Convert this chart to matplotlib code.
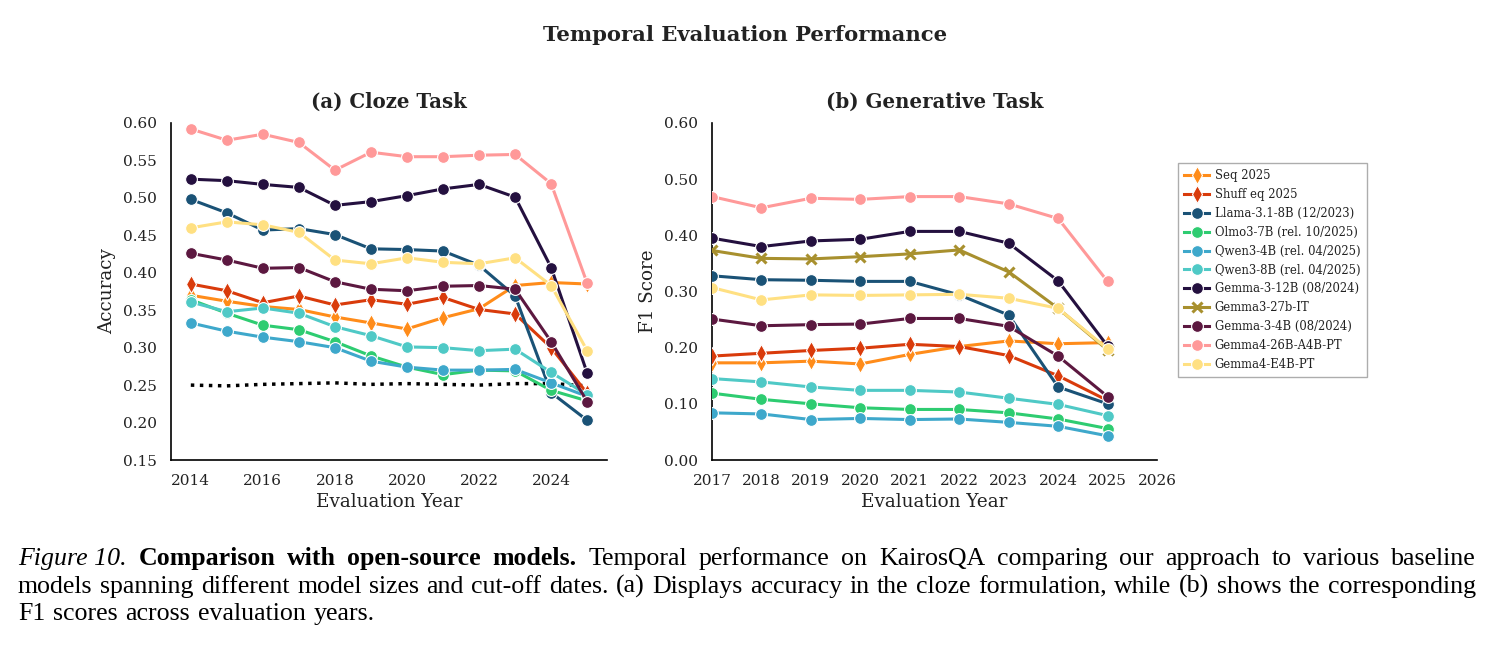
import matplotlib
matplotlib.use("Agg")
import matplotlib.pyplot as plt
import numpy as np

# ---------------- data ----------------
years_cloze = [2014, 2015, 2016, 2017, 2018, 2019, 2020, 2021, 2022, 2023, 2024, 2025]
years_gen = [2017, 2018, 2019, 2020, 2021, 2022, 2023, 2024, 2025]

series_names = [
    "Seq 2025", "Shuff eq 2025", "Llama-3.1-8B (12/2023)", "Olmo3-7B (rel. 10/2025)",
    "Qwen3-4B (rel. 04/2025)", "Qwen3-8B (rel. 04/2025)", "Gemma-3-12B (08/2024)",
    "Gemma3-27b-IT", "Gemma-3-4B (08/2024)", "Gemma4-26B-A4B-PT", "Gemma4-E4B-PT",
]
series_colors = ["#FF8C1A", "#D93B0B", "#1A5276", "#2ECC71", "#3EA8CB", "#4FC9C6",
                 "#24103F", "#A8902E", "#5C1840", "#FF9999", "#FFE082"]
series_markers = ["d", "d", "o", "o", "o", "o", "o", "x", "o", "o", "o"]

cloze = {
    "Seq 2025":                [0.370, 0.362, 0.355, 0.351, 0.341, 0.333, 0.325, 0.340, 0.352, 0.383, 0.387, 0.385],
    "Shuff eq 2025":           [0.385, 0.376, 0.360, 0.369, 0.357, 0.364, 0.358, 0.367, 0.351, 0.345, 0.300, 0.239],
    "Llama-3.1-8B (12/2023)":  [0.498, 0.480, 0.457, 0.459, 0.451, 0.432, 0.431, 0.429, 0.410, 0.369, 0.240, 0.203],
    "Olmo3-7B (rel. 10/2025)": [0.364, 0.346, 0.330, 0.324, 0.308, 0.289, 0.274, 0.264, 0.270, 0.269, 0.243, 0.229],
    "Qwen3-4B (rel. 04/2025)": [0.333, 0.322, 0.314, 0.308, 0.300, 0.282, 0.274, 0.270, 0.270, 0.271, 0.253, 0.235],
    "Qwen3-8B (rel. 04/2025)": [0.361, 0.348, 0.353, 0.346, 0.328, 0.316, 0.301, 0.300, 0.296, 0.298, 0.267, 0.237],
    "Gemma-3-12B (08/2024)":   [0.525, 0.523, 0.518, 0.514, 0.490, 0.495, 0.503, 0.512, 0.518, 0.501, 0.407, 0.266],
    "Gemma-3-4B (08/2024)":    [0.426, 0.417, 0.406, 0.407, 0.388, 0.378, 0.376, 0.382, 0.383, 0.378, 0.308, 0.228],
    "Gemma4-26B-A4B-PT":       [0.592, 0.577, 0.585, 0.574, 0.537, 0.561, 0.555, 0.555, 0.557, 0.558, 0.519, 0.386],
    "Gemma4-E4B-PT":           [0.460, 0.468, 0.464, 0.454, 0.417, 0.412, 0.420, 0.414, 0.412, 0.420, 0.383, 0.296],
}
random_baseline = [0.250, 0.249, 0.251, 0.252, 0.253, 0.251, 0.252, 0.251, 0.250, 0.252, 0.252, 0.249]

generative = {
    "Seq 2025":                [0.173, 0.173, 0.176, 0.171, 0.188, 0.202, 0.212, 0.207, 0.209],
    "Shuff eq 2025":           [0.185, 0.190, 0.195, 0.199, 0.206, 0.202, 0.186, 0.150, 0.106],
    "Llama-3.1-8B (12/2023)":  [0.328, 0.321, 0.320, 0.318, 0.318, 0.294, 0.258, 0.130, 0.100],
    "Olmo3-7B (rel. 10/2025)": [0.119, 0.108, 0.100, 0.093, 0.090, 0.090, 0.084, 0.073, 0.056],
    "Qwen3-4B (rel. 04/2025)": [0.084, 0.082, 0.072, 0.074, 0.072, 0.073, 0.067, 0.060, 0.043],
    "Qwen3-8B (rel. 04/2025)": [0.145, 0.139, 0.130, 0.124, 0.124, 0.121, 0.110, 0.099, 0.079],
    "Gemma-3-12B (08/2024)":   [0.395, 0.380, 0.390, 0.393, 0.407, 0.407, 0.386, 0.319, 0.203],
    "Gemma3-27b-IT":           [0.373, 0.359, 0.358, 0.362, 0.367, 0.374, 0.335, 0.270, 0.196],
    "Gemma-3-4B (08/2024)":    [0.251, 0.239, 0.241, 0.242, 0.252, 0.252, 0.238, 0.185, 0.113],
    "Gemma4-26B-A4B-PT":       [0.469, 0.449, 0.466, 0.464, 0.469, 0.469, 0.456, 0.430, 0.318],
    "Gemma4-E4B-PT":           [0.307, 0.285, 0.294, 0.293, 0.294, 0.295, 0.288, 0.270, 0.198],
}

cloze_yticks = [0.15, 0.20, 0.25, 0.30, 0.35, 0.40, 0.45, 0.50, 0.55, 0.60]
cloze_xticks = [2014, 2016, 2018, 2020, 2022, 2024]
gen_yticks = [0.0, 0.1, 0.2, 0.3, 0.4, 0.5, 0.6]
gen_xticks = [2017, 2018, 2019, 2020, 2021, 2022, 2023, 2024, 2025, 2026]

fig_title = "Temporal Evaluation Performance"
title_a = "(a) Cloze Task"
title_b = "(b) Generative Task"

caption_lines = [
    [("Figure 10.", "italic"), ("Comparison", "bold"), ("with", "bold"), ("open-source", "bold"),
     ("models.", "bold")] + [(w, "normal") for w in
     "Temporal performance on KairosQA comparing our approach to various baseline".split()],
    [(w, "normal") for w in
     "models spanning different model sizes and cut-off dates. (a) Displays accuracy in the cloze formulation, while (b) shows the corresponding".split()],
    [(w, "normal") for w in "F1 scores across evaluation years.".split()],
]

# ---------------- plotting ----------------
plt.rcParams["font.family"] = "DejaVu Serif"
W, H = 1491, 648
fig = plt.figure(figsize=(W / 100, H / 100), dpi=100)

def px_axes(x0, y0, x1, y1):
    return fig.add_axes([x0 / W, 1 - y1 / H, (x1 - x0) / W, (y1 - y0) / H])

ax1 = px_axes(171, 123, 607, 460)
ax2 = px_axes(712, 123, 1157, 460)

def style_line(name):
    i = series_names.index(name)
    m = series_markers[i]
    kw = dict(color=series_colors[i], lw=2.2, marker=m, label=name, zorder=3)
    if m == "x":
        kw.update(markersize=7, markeredgewidth=2.2)
    elif m == "d":
        kw.update(markersize=9, markeredgecolor="white", markeredgewidth=0.8)
    else:
        kw.update(markersize=8.5, markeredgecolor="white", markeredgewidth=0.8)
    return kw

for name in series_names:
    if name in cloze:
        ax1.plot(years_cloze, cloze[name], **style_line(name))
ax1.plot(years_cloze, random_baseline, color="black", lw=2.5, ls=(0, (1, 1.6)), zorder=2)

handles = []
for name in series_names:
    h, = ax2.plot(years_gen, generative[name], **style_line(name))
    handles.append(h)

for ax in (ax1, ax2):
    for s in ("top", "right"):
        ax.spines[s].set_visible(False)
    for s in ("left", "bottom"):
        ax.spines[s].set_color("black")
        ax.spines[s].set_linewidth(1.2)
    ax.tick_params(length=0, pad=10, labelsize=11, colors="#222222")
    ax.set_xlabel("Evaluation Year", fontsize=13.2, color="#222222", labelpad=4)

ax1.set_xlim(2013.45, 2025.55)
ax1.set_ylim(0.15, 0.60)
ax1.set_xticks(cloze_xticks)
ax1.set_yticks(cloze_yticks)
ax1.set_yticklabels([f"{v:.2f}" for v in cloze_yticks])
ax1.set_ylabel("Accuracy", fontsize=13.2, color="#222222", labelpad=5)
ax1.set_title(title_a, fontsize=14.2, fontweight="bold", color="#222222", pad=11)

ax2.set_xlim(2017, 2026)
ax2.set_ylim(0.0, 0.60)
ax2.set_xticks(gen_xticks)
ax2.set_yticks(gen_yticks)
ax2.set_yticklabels([f"{v:.2f}" for v in gen_yticks])
ax2.set_ylabel("F1 Score", fontsize=13.2, color="#222222", labelpad=5)
ax2.set_title(title_b, fontsize=14.2, fontweight="bold", color="#222222", pad=11)

leg = fig.legend(handles=handles, loc="upper left", bbox_to_anchor=(1178 / W, 1 - 163 / H),
                 borderaxespad=0.0, fontsize=8.4, frameon=True, fancybox=False,
                 handlelength=2.1, borderpad=0.55, labelspacing=0.5, handletextpad=0.5)
leg.get_frame().set_edgecolor("#999999")
leg.get_frame().set_linewidth(1.0)
for t in leg.get_texts():
    t.set_color("#222222")

fig.text(0.5, 1 - 35 / H, fig_title, ha="center", va="center", fontsize=15.2,
         fontweight="bold", color="#222222")

# ---------------- caption (justified) ----------------
renderer = fig.canvas.get_renderer()
cap_left, cap_right = 18, 1476
cap_size = 18.6
line_base = [565, 593, 620]
for li, words in enumerate(caption_lines):
    arts = []
    for w, st in words:
        kw = dict(fontsize=cap_size, family="Liberation Serif", va="baseline", ha="left", color="black")
        if st == "italic":
            kw["style"] = "italic"
        elif st == "bold":
            kw["weight"] = "bold"
        t = fig.text(0, 1 - line_base[li] / H, w, **kw)
        arts.append(t)
    widths = [a.get_window_extent(renderer).width for a in arts]
    natural_space = cap_size * 100 / 72 * 0.30
    if li < len(caption_lines) - 1:
        gap = (cap_right - cap_left - sum(widths)) / (len(arts) - 1)
    else:
        gap = natural_space
    x = cap_left
    for a, wd in zip(arts, widths):
        a.set_x(x / W)
        x += wd + gap

fig.savefig("out.png", dpi=100)
